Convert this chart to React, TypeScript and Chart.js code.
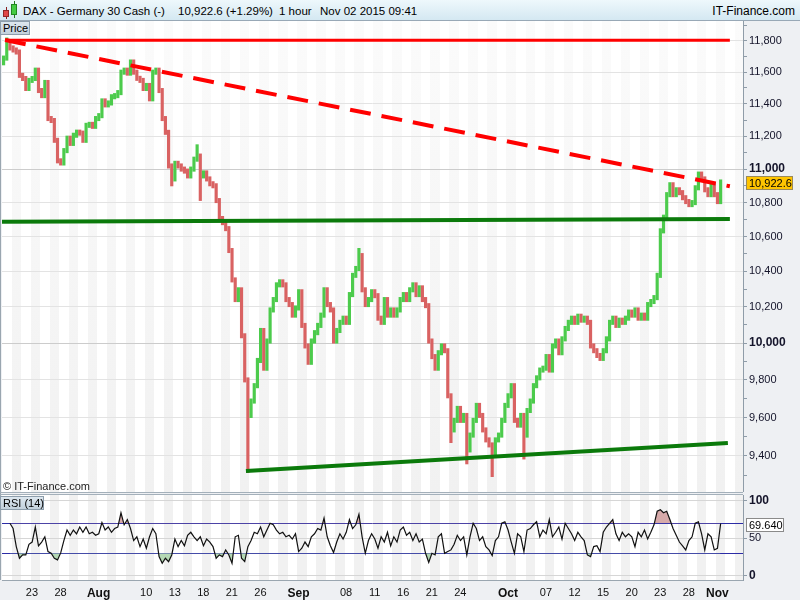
import React, { useEffect, useRef } from "react";
import { Chart, registerables } from "chart.js";

Chart.register(...registerables);

const FONT = "'Liberation Sans', Arial, Helvetica, sans-serif";

// ---- data ----
// hourly DAX closes sampled 3 per trading day, day 0 = Jul 20 2015
const firstOpen = 11660;
const closes = [
  11690, 11774, 11755, 11742, 11729, 11580, 11560, 11497, 11548, 11560,
  11613, 11484, 11452, 11535, 11309, 11297, 11175, 11050, 11037, 11112,
  11188, 11156, 11206, 11225, 11219, 11175, 11267, 11273, 11261, 11309,
  11327, 11419, 11394, 11406, 11445, 11452, 11471, 11600, 11613, 11594,
  11665, 11600, 11561, 11548, 11497, 11516, 11432, 11600, 11613, 11484,
  11309, 11224, 11019, 10941, 11035, 11019, 11000, 10988, 10959, 11000,
  11060, 11079, 10959, 10977, 10941, 10912, 10900, 10812, 10706, 10682,
  10647, 10520, 10352, 10241, 10296, 10040, 9800, 9611, 9687, 9769,
  9905, 10069, 9863, 10011, 10183, 10241, 10324, 10341, 10324, 10241,
  10213, 10154, 10194, 10285, 10097, 9984, 9895, 10011, 10057, 10097,
  10154, 10296, 10213, 10183, 10011, 10069, 10114, 10137, 10114, 10269,
  10378, 10417, 10491, 10296, 10213, 10241, 10285, 10263, 10137, 10114,
  10241, 10154, 10183, 10154, 10183, 10241, 10269, 10241, 10296, 10324,
  10269, 10307, 10241, 10207, 10011, 9926, 9863, 9947, 9984, 9958,
  9715, 9535, 9585, 9648, 9585, 9611, 9431, 9508, 9585, 9664,
  9611, 9535, 9483, 9457, 9406, 9483, 9508, 9585, 9664, 9715,
  9769, 9585, 9560, 9611, 9508, 9637, 9687, 9769, 9811, 9853,
  9863, 9926, 9853, 9984, 10011, 9947, 10023, 10080, 10114, 10137,
  10114, 10148, 10126, 10137, 10114, 9984, 9958, 9932, 9916, 9958,
  10023, 10114, 10137, 10097, 10126, 10114, 10137, 10171, 10154, 10183,
  10137, 10154, 10137, 10213, 10230, 10252, 10378, 10634, 10714, 10847,
  10906, 10847, 10876, 10859, 10829, 10806, 10788, 10800, 10888, 10970,
  10941, 10876, 10847, 10906, 10847, 10806, 10922.6,
];
// [bar index, price] of long wicks
const wickLows: [number, number][] = [
  [53, 10912], [62, 10825], [77, 9326], [141, 9480], [146, 9370], [154, 9305], [164, 9395],
];
const wickHighs: [number, number][] = [
  [1, 11806], [61, 11135], [112, 10520],
];

const rsiValues: (number | null)[] = [
  null, null, 70, 63, 38.9, 23.4, 27.8, 27.8, 42, 45,
  65, 40, 45, 52, 32.3, 30, 23.4, 21.2, 30.5, 47,
  61, 54, 61, 56, 65, 58, 65, 56, 58, 54,
  56, 71, 61, 65, 58, 63, 65, 84, 68, 75,
  63, 47, 52, 38.9, 49, 36.7, 52, 63, 56, 25.6,
  16.7, 23.4, 18.9, 27.8, 49, 38.9, 47, 40, 54, 58,
  52, 47, 52, 40, 49, 45, 38.9, 23.4, 27.8, 25.6,
  34.5, 27.8, 16.7, 52, 54, 23.4, 18.9, 38.9, 47, 58,
  56, 65, 52, 61, 70, 68, 61, 56, 58, 52,
  54, 49, 56, 32.3, 36.7, 45, 38.9, 52, 56, 63,
  61, 77, 52, 40, 31, 45, 56, 49, 58, 75,
  63, 68, 82, 52, 30, 47, 56, 49, 36.7, 52,
  45, 58, 40, 52, 45, 61, 65, 54, 58, 47,
  56, 45, 49, 30, 17.8, 30, 27.8, 52, 56, 30,
  32.3, 34.5, 42, 54, 47, 52, 27.8, 52, 70, 63,
  47, 52, 38.9, 34.5, 26.9, 47, 52, 70, 72, 61,
  45, 30, 56, 52, 32.3, 61, 63, 68, 72, 52,
  61, 56, 75, 52, 58, 65, 49, 70, 63, 56,
  47, 58, 52, 47, 27.8, 25.6, 38.9, 40, 32.3, 58,
  65, 70, 75, 56, 47, 58, 52, 56, 52, 38.9,
  58, 52, 61, 49, 58, 68, 86, 88, 84, 86,
  75, 63, 54, 45, 40, 34.5, 47, 52, 70, 72,
  56, 34.5, 56, 52, 34.5, 36.7, 69.64,
];

// trend lines: [trading-day index, price]
const resistanceFlat = [[0.32, 11805], [76.47, 11805]];
const resistanceFalling = [[0.32, 11806], [76.47, 10897]];
const supportFlat = [[0, 10687], [76.47, 10704]];
const supportRising = [[25.63, 9323], [76.26, 9467]];

// axis ticks
const dayTicks = [3, 6, 10, 15, 18, 21, 24, 27, 31, 36, 39, 42, 45, 48, 53, 57, 60, 63, 66, 69, 72, 75];
const dayTickLabels = ["23", "28", "Aug", "10", "13", "18", "21", "26", "Sep", "08", "11", "16", "21", "24", "Oct", "07", "12", "15", "20", "23", "28", "Nov"];
const monthLabels = ["Aug", "Sep", "Oct", "Nov"];
const priceLabelTicks = [9400, 9600, 9800, 10000, 10200, 10400, 10600, 10800, 11000, 11200, 11400, 11600, 11800];
const priceMinorTicks = [9300, 9500, 9700, 9900, 10100, 10300, 10500, 10700, 10900, 11100, 11300, 11500, 11700, 11900];
const priceBoldTicks = [10000, 11000];
const rsiLabelTicks = [0, 50, 100];
const rsiBoldTicks = [0, 100];
const rsiBands = [30, 70];

const lastPrice = 10922.6;
const lastRsi = 69.64;

// ---- layout helpers ----
const X_MAX = 77.85;
const barX = (i: number) => i / 3 + 1 / 6;
const fmt = (v: number) => v.toLocaleString("en-US");

const stripes = {
  id: "stripes",
  beforeDraw(chart: any, _args: any, opts: any) {
    const { ctx, chartArea: a, scales } = chart;
    const x = scales.x;
    ctx.save();
    ctx.fillStyle = "#ffffff";
    ctx.fillRect(a.left, a.top, a.right - a.left, a.bottom - a.top);
    ctx.beginPath();
    ctx.rect(a.left, a.top, a.right - a.left, a.bottom - a.top);
    ctx.clip();
    if (opts && opts.gradient) {
      const g = ctx.createLinearGradient(0, a.top, 0, a.bottom);
      g.addColorStop(0, "#fbfbfb");
      g.addColorStop(1, "#f1f1f1");
      ctx.fillStyle = g;
    } else {
      ctx.fillStyle = "#f1f1f1";
    }
    for (let d = 1; d < 82; d += 2) {
      const x0 = Math.round(x.getPixelForValue(d));
      const x1 = Math.round(x.getPixelForValue(d + 1));
      ctx.fillRect(x0, a.top, x1 - x0, a.bottom - a.top);
    }
    ctx.restore();
  },
};

const valueTag = {
  id: "valueTag",
  afterDraw(chart: any, _args: any, opts: any) {
    if (!opts || opts.value == null) return;
    const { ctx, scales } = chart;
    const y = Math.round(scales.y.getPixelForValue(opts.value)) + 1;
    ctx.save();
    ctx.fillStyle = opts.fill;
    ctx.strokeStyle = opts.stroke;
    ctx.lineWidth = 1;
    ctx.fillRect(747, y - 6, opts.width, 12);
    ctx.strokeRect(746.5, y - 6.5, opts.width + 1, 13);
    ctx.fillStyle = "#000";
    ctx.font = `11px ${FONT}`;
    ctx.textBaseline = "middle";
    ctx.textAlign = "left";
    ctx.fillText(opts.text, 749, y + 0.5);
    ctx.restore();
  },
};

export default function App() {
  const mainRef = useRef<HTMLCanvasElement>(null);
  const rsiRef = useRef<HTMLCanvasElement>(null);

  useEffect(() => {
    Chart.defaults.font.family = FONT;

    const bars = closes.map((c, i) => {
      const o = i === 0 ? firstOpen : closes[i - 1];
      let lo = Math.min(o, c);
      let hi = Math.max(o, c);
      const wl = wickLows.find((w) => w[0] === i);
      if (wl) lo = Math.min(lo, wl[1]);
      const wh = wickHighs.find((w) => w[0] === i);
      if (wh) hi = Math.max(hi, wh[1]);
      const pad = c * 0.0012;
      return { x: barX(i), y: [lo - pad, hi + pad], up: c >= o };
    });
    const pts = (arr: number[][]) => arr.map((p) => ({ x: p[0], y: p[1] }));

    const main = new Chart(mainRef.current as HTMLCanvasElement, {
      type: "bar",
      data: {
        datasets: [
          {
            type: "line",
            data: pts(resistanceFlat),
            borderColor: "#ff0000",
            borderWidth: 3,
            pointRadius: 0,
            order: 1,
          } as any,
          {
            type: "line",
            data: pts(resistanceFalling),
            borderColor: "#ff0000",
            borderWidth: 4,
            borderDash: [21, 11],
            pointRadius: 0,
            order: 1,
          } as any,
          {
            type: "line",
            data: pts(supportFlat),
            borderColor: "#0b7a0b",
            borderWidth: 4,
            pointRadius: 0,
            order: 1,
          } as any,
          {
            type: "line",
            data: pts(supportRising),
            borderColor: "#0b7a0b",
            borderWidth: 4,
            pointRadius: 0,
            order: 1,
          } as any,
          {
            type: "bar",
            data: bars.map((b) => ({ x: b.x, y: b.y })),
            backgroundColor: bars.map((b) => (b.up ? "#4ccb4c" : "#d96262")),
            borderWidth: 0,
            barThickness: 2.5,
            order: 2,
          } as any,
        ],
      },
      options: {
        responsive: false,
        animation: false,
        events: [],
        layout: { padding: { left: 2, top: 0, right: 0, bottom: 0 } },
        plugins: {
          legend: { display: false },
          tooltip: { enabled: false },
          stripes: { gradient: true },
          valueTag: { value: lastPrice, text: fmt(lastPrice), fill: "#ffc400", stroke: "#9a8a5a", width: 45 },
        } as any,
        scales: {
          x: { type: "linear", min: 0, max: X_MAX, display: false, offset: false, grid: { offset: false } },
          y: {
            type: "logarithmic",
            position: "right",
            min: 9216,
            max: 11930,
            afterFit(s: any) {
              s.width = 57;
              s.paddingTop = 0;
              s.paddingBottom = 0;
            },
            afterBuildTicks(s: any) {
              s.ticks = [...priceLabelTicks, ...priceMinorTicks].sort((a, b) => a - b).map((v) => ({ value: v }));
            },
            ticks: {
              autoSkip: false,
              padding: 2,
              color: "#14142a",
              callback: (v: any) => (priceLabelTicks.includes(Number(v)) ? fmt(Number(v)) : ""),
              font: (ctx: any) => {
                const v = ctx.tick ? ctx.tick.value : 0;
                return priceBoldTicks.includes(v)
                  ? { size: 12, weight: "bold", family: FONT }
                  : { size: 11, weight: "normal", family: FONT };
              },
            },
            grid: {
              drawTicks: true,
              tickLength: 4,
              color: (ctx: any) => {
                const v = ctx.tick ? ctx.tick.value : 0;
                if (priceBoldTicks.includes(v)) return "#cccccc";
                if (priceLabelTicks.includes(v)) return "#e3e3e3";
                return "rgba(0,0,0,0)";
              },
              tickColor: "#8f9ca8",
            },
            border: { display: true, color: "#8f9ca8" },
          } as any,
        },
      },
      plugins: [stripes, valueTag],
    });

    const rsiPts = rsiValues
      .map((v, i) => (v == null ? null : { x: barX(i), y: v }))
      .filter((p) => p !== null);

    const rsi = new Chart(rsiRef.current as HTMLCanvasElement, {
      type: "line",
      data: {
        datasets: [
          {
            data: rsiPts,
            borderColor: "#111111",
            borderWidth: 1.2,
            pointRadius: 0,
            tension: 0,
            fill: { target: { value: 70 }, above: "#d7aaaa", below: "rgba(0,0,0,0)" },
          } as any,
          {
            data: rsiPts,
            borderColor: "rgba(0,0,0,0)",
            borderWidth: 0,
            pointRadius: 0,
            tension: 0,
            fill: { target: { value: 30 }, above: "rgba(0,0,0,0)", below: "#b4d8b4" },
          } as any,
        ],
      },
      options: {
        responsive: false,
        animation: false,
        events: [],
        layout: { padding: { left: 2, top: 2, right: 0, bottom: 0 } },
        plugins: {
          legend: { display: false },
          tooltip: { enabled: false },
          stripes: { gradient: false },
          valueTag: { value: lastRsi, text: lastRsi.toFixed(3), fill: "#ffffff", stroke: "#8a8a8a", width: 36 },
        } as any,
        scales: {
          x: {
            type: "linear",
            min: 0,
            max: X_MAX,
            offset: false,
            afterFit(s: any) {
              s.height = 20;
              s.paddingLeft = 0;
              s.paddingRight = 0;
            },
            afterBuildTicks(s: any) {
              s.ticks = dayTicks.map((d) => ({ value: d + 0.15 }));
            },
            ticks: {
              autoSkip: false,
              maxRotation: 0,
              padding: 6,
              color: "#111111",
              callback: (_v: any, i: number) => dayTickLabels[i],
              font: (ctx: any) =>
                monthLabels.includes(dayTickLabels[ctx.index])
                  ? { size: 12, weight: "bold", family: FONT }
                  : { size: 11, weight: "normal", family: FONT },
            },
            grid: { display: false, drawTicks: false },
            border: { display: true, color: "#9aa6b0" },
          } as any,
          y: {
            type: "linear",
            position: "right",
            min: -5.6,
            max: 107.7,
            afterFit(s: any) {
              s.width = 57;
              s.paddingTop = 0;
              s.paddingBottom = 0;
            },
            afterBuildTicks(s: any) {
              s.ticks = [0, 30, 50, 70, 100].map((v) => ({ value: v }));
            },
            ticks: {
              autoSkip: false,
              padding: 2,
              color: "#14142a",
              callback: (v: any) => (rsiLabelTicks.includes(Number(v)) ? String(v) : ""),
              font: (ctx: any) => {
                const v = ctx.tick ? ctx.tick.value : 0;
                return rsiBoldTicks.includes(v)
                  ? { size: 12, weight: "bold", family: FONT }
                  : { size: 11, weight: "normal", family: FONT };
              },
            },
            grid: {
              drawTicks: true,
              tickLength: 4,
              color: (ctx: any) => {
                const v = ctx.tick ? ctx.tick.value : 0;
                return rsiBands.includes(v) ? "#2c2ca6" : "#d6d6d6";
              },
              tickColor: (ctx: any) => {
                const v = ctx.tick ? ctx.tick.value : 0;
                return rsiBands.includes(v) ? "rgba(0,0,0,0)" : "#8f9ca8";
              },
            },
            border: { display: true, color: "#8f9ca8" },
          } as any,
        },
      },
      plugins: [stripes, valueTag],
    });

    return () => {
      main.destroy();
      rsi.destroy();
    };
  }, []);

  const boxStyle: React.CSSProperties = {
    position: "absolute",
    background: "linear-gradient(#dde7ef, #c3d1dc)",
    border: "1px solid #8d9eac",
    fontSize: 11,
    lineHeight: "12px",
    color: "#000",
    padding: "0 2px",
    boxSizing: "border-box",
    whiteSpace: "nowrap",
  };

  const hdr: React.CSSProperties = { position: "absolute", top: 1, fontSize: 11.5, whiteSpace: "nowrap" };

  return (
    <div
      style={{
        position: "absolute",
        left: 0,
        top: 0,
        width: 800,
        height: 600,
        background: "#eef0f3",
        overflow: "hidden",
        fontFamily: FONT,
      }}
    >
      {/* header */}
      <div
        style={{
          position: "absolute",
          left: 0,
          top: 0,
          width: 800,
          height: 20,
          background: "linear-gradient(#eef8fc, #d4e8f2)",
          borderBottom: "1px solid #98a8b6",
          fontSize: 12,
          lineHeight: "20px",
          color: "#000",
        }}
      >
        <div style={{ position: "absolute", left: 6, top: 7, width: 1, height: 12, background: "#8a2020" }} />
        <div style={{ position: "absolute", left: 3, top: 10, width: 6, height: 7, background: "#e04848", border: "1px solid #902828", boxSizing: "border-box" }} />
        <div style={{ position: "absolute", left: 14, top: 1, width: 1, height: 17, background: "#1f7a1f" }} />
        <div style={{ position: "absolute", left: 11, top: 4, width: 6, height: 11, background: "#44cc44", border: "1px solid #228822", boxSizing: "border-box" }} />
        <span style={{ ...hdr, left: 23 }}>DAX - Germany 30 Cash (-)</span>
        <span style={{ ...hdr, left: 178 }}>10,922.6 (+1.29%)</span>
        <span style={{ ...hdr, left: 279 }}>1 hour</span>
        <span style={{ ...hdr, left: 320 }}>Nov 02 2015 09:41</span>
        <span style={{ ...hdr, fontSize: 12, right: 5, left: "auto" }}>IT-Finance.com</span>
      </div>

      <canvas ref={mainRef} width={800} height={471} style={{ position: "absolute", left: 0, top: 21 }} />
      <canvas ref={rsiRef} width={800} height={107} style={{ position: "absolute", left: 0, top: 493 }} />

      {/* frame lines */}
      <div style={{ position: "absolute", left: 0, top: 21, width: 1, height: 559, background: "#9aa6b0" }} />
      <div style={{ position: "absolute", left: 0, top: 492, width: 743, height: 1, background: "#a4b0ba" }} />
      <div style={{ position: "absolute", left: 0, top: 494, width: 743, height: 1, background: "#a4b0ba" }} />

      <div style={{ ...boxStyle, left: 0, top: 21, width: 30, height: 14 }}>Price</div>
      <div style={{ ...boxStyle, left: 0, top: 496, width: 44, height: 14 }}>RSI (14)</div>
      <div style={{ position: "absolute", left: 3, top: 480, fontSize: 11, lineHeight: "12px", color: "#222", whiteSpace: "nowrap" }}>
        © IT-Finance.com
      </div>
    </div>
  );
}
